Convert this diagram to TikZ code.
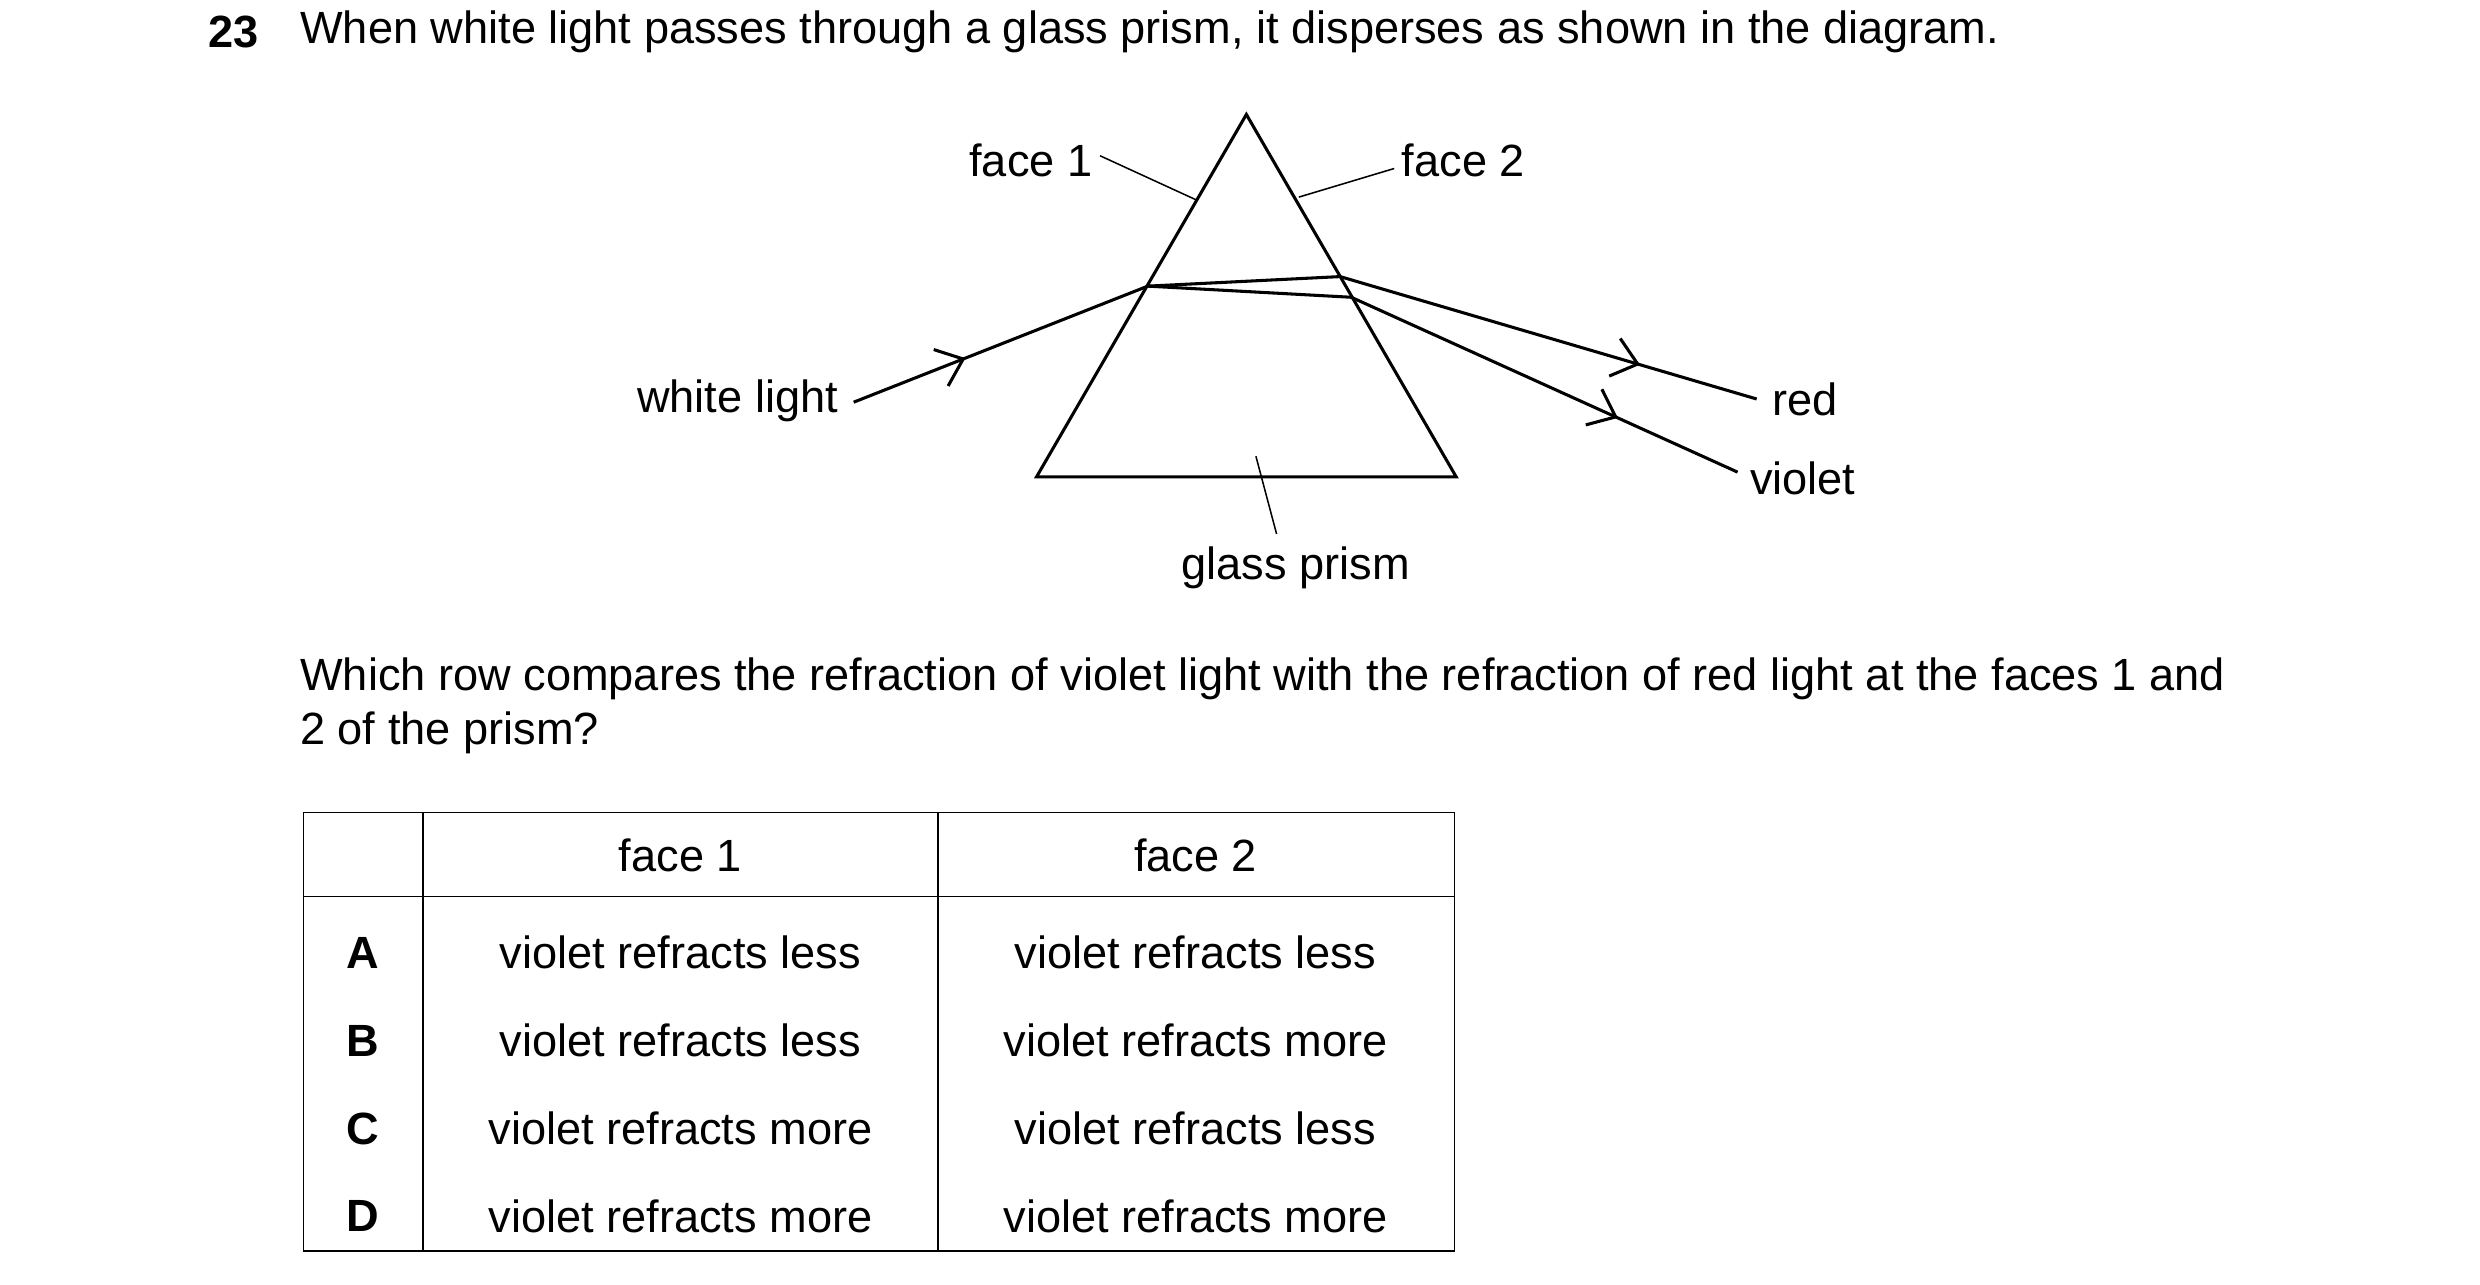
\documentclass[tikz,border=0pt]{standalone}
\usepackage{fontspec}
\setmainfont{Liberation Sans}
\usetikzlibrary{positioning, arrows.meta, decorations.markings}

\tikzset{
  lbl/.style={font=\fontsize{11.8}{14}\selectfont, inner sep=1pt},
  ray/.style={thick},
  leader/.style={thin},
  midarrow/.style={postaction={decorate}, decoration={markings,
      mark=at position #1 with {\arrow{Straight Barb[length=2.2mm,width=3.6mm,line width=0.8pt]}}}}
}

\begin{document}
\begin{tikzpicture}[x=0.0146cm, y=-0.0146cm]
			\useasboundingbox (0,0) rectangle (1560,808);
			% question
			\node[lbl, anchor=west, font=\fontsize{11.8}{14}\selectfont\bfseries] (num) at (128,20) {23};
			\node[lbl, anchor=west] (q) at (186,20) {When white light passes through a glass prism, it disperses as shown in the diagram.};
			
			% prism
			\coordinate (apex) at (784,72);
			\coordinate (bl) at (652,300);
			\coordinate (br) at (916,300);
			\draw[thick, line join=miter] (apex) -- (bl) -- (br) -- cycle;
			
			% rays
			\coordinate (win) at (537,253);
			\coordinate (p1) at (722,180);
			\coordinate (pr) at (843,174);
			\coordinate (pv) at (850,187);
			\coordinate (rout) at (1105,251);
			\coordinate (vout) at (1093,297);
			\draw[ray, midarrow=0.38] (win) -- (p1);
			\draw[ray] (p1) -- (pr);
			\draw[ray] (p1) -- (pv);
			\draw[ray, midarrow=0.72] (pr) -- (rout);
			\draw[ray, midarrow=0.69] (pv) -- (vout);
			
			% labels
			\node[lbl, anchor=east] (white) at (530,252) {white light};
			\node[lbl, anchor=west] (red) at (1112,251) {red};
			\node[lbl, anchor=west] (violet) at (1098,301) {violet};
			\node[lbl, anchor=east] (f1) at (690,101) {face 1};
			\node[lbl, anchor=west] (f2) at (879,101) {face 2};
			\node[lbl] (gp) at (815,357) {glass prism};
			\coordinate (f1e) at (753,126);
			\coordinate (f2e) at (817,124);
			\coordinate (gpe) at (790,287);
			\draw[leader] (f1.east) ++(2,-3) -- (f1e);
			\draw[leader] (f2.west) ++(-2,5) -- (f2e);
			\draw[leader] (gp.north) ++(-12,-5) -- (gpe);
			
			% second question
			\node[lbl, anchor=west, align=left] (q2) at (186,444) {Which row compares the refraction of violet light with the refraction of red light at the faces 1 and\\2 of the prism?};
			
			% table
			\draw (191,511) rectangle (915,787);
			\draw (191,564) -- (915,564);
			\draw (266,511) -- (266,787);
			\draw (590,511) -- (590,787);
			\node[lbl] (h1) at (428,538) {face 1};
			\node[lbl] (h2) at (752,538) {face 2};
			\foreach \r/\a/\b [count=\i] in {A/less/less, B/less/more, C/more/less, D/more/more}{
				\node[lbl, font=\fontsize{11.8}{14}\selectfont\bfseries] (r\i) at (228,544+55.3*\i) {\r};
				\node[lbl] (a\i) at (428,544+55.3*\i) {violet refracts \a};
				\node[lbl] (b\i) at (752,544+55.3*\i) {violet refracts \b};
			}
\end{tikzpicture}
\end{document}
